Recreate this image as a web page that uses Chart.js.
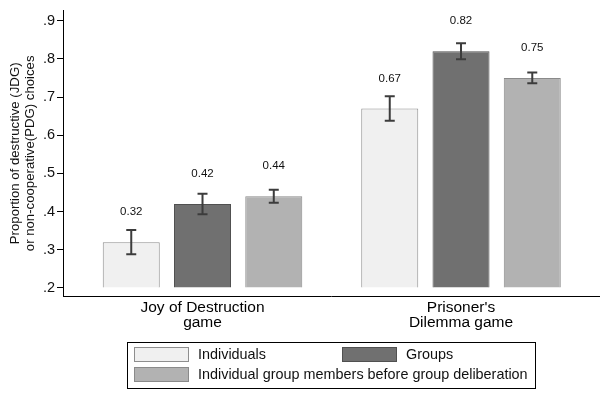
<!DOCTYPE html>
<html>
<head>
<meta charset="utf-8">
<script src="https://cdn.jsdelivr.net/npm/chart.js@4"></script>
<style>
    html, body { margin: 0; padding: 0; background: #fff; }
    #wrap { width: 604px; height: 398px; }
</style>
</head>
<body>
<div id="wrap"><canvas id="chart" width="604" height="398"></canvas></div>
<script>
// Categories (games) and series values
const games = [['Joy of Destruction', 'game'], ["Prisoner's", 'Dilemma game']];
const individuals = [0.32, 0.67];
const groups = [0.42, 0.82];
const members = [0.44, 0.75];

// Half-widths of the error bars
const individualsErr = [0.032, 0.032];
const groupsErr = [0.027, 0.021];
const membersErr = [0.017, 0.014];

const yTicks = [0.2, 0.3, 0.4, 0.5, 0.6, 0.7, 0.8, 0.9];
const FONT = "'Liberation Sans', Arial, sans-serif";

function toPoints(values) {
    return values.map((v, i) => ({ x: i, y: v }));
}

// Error bars and value labels above each bar
const barExtras = {
    id: 'barExtras',
    afterDatasetsDraw(chart) {
        const ctx = chart.ctx;
        const yScale = chart.scales.y;
        ctx.save();
        chart.data.datasets.forEach((ds, di) => {
            const meta = chart.getDatasetMeta(di);
            meta.data.forEach((bar, i) => {
                const v = ds.data[i].y;
                const e = ds.errors[i];
                const top = yScale.getPixelForValue(v + e);
                const bottom = yScale.getPixelForValue(v - e);
                ctx.strokeStyle = '#3c3c3c';
                ctx.lineWidth = 2;
                ctx.beginPath();
                ctx.moveTo(bar.x, top);
                ctx.lineTo(bar.x, bottom);
                ctx.moveTo(bar.x - 5, top);
                ctx.lineTo(bar.x + 5, top);
                ctx.moveTo(bar.x - 5, bottom);
                ctx.lineTo(bar.x + 5, bottom);
                ctx.stroke();

                ctx.fillStyle = '#111';
                ctx.font = '11.5px ' + FONT;
                ctx.textAlign = 'center';
                ctx.textBaseline = 'middle';
                ctx.fillText(v.toFixed(2), bar.x, yScale.getPixelForValue(v) - 30);
            });
        });
        ctx.restore();
    }
};

// Boxed legend, two rows like the original
const boxLegend = {
    id: 'boxLegend',
    afterDraw(chart) {
        const ctx = chart.ctx;
        const ds = chart.data.datasets;
        const slots = [
            { x: 134, y: 347 },
            { x: 342, y: 347 },
            { x: 134, y: 367 }
        ];
        ctx.save();
        ctx.strokeStyle = '#000';
        ctx.lineWidth = 1;
        ctx.strokeRect(127.5, 342.5, 408, 46);
        ctx.font = '14.4px ' + FONT;
        ctx.textAlign = 'left';
        ctx.textBaseline = 'middle';
        ds.forEach((d, i) => {
            const s = slots[i];
            ctx.fillStyle = d.backgroundColor;
            ctx.fillRect(s.x, s.y, 55, 15);
            ctx.strokeStyle = d.borderColor;
            ctx.strokeRect(s.x + 0.5, s.y + 0.5, 54, 14);
            ctx.fillStyle = '#111';
            ctx.fillText(d.label, s.x + 64, s.y + 8);
        });
        ctx.restore();
    }
};

const ctx = document.getElementById('chart').getContext('2d');
new Chart(ctx, {
    type: 'bar',
    data: {
        datasets: [
            {
                label: 'Individuals',
                data: toPoints(individuals),
                errors: individualsErr,
                backgroundColor: '#f0f0f0',
                borderColor: '#8e8e8e',
                borderWidth: 1
            },
            {
                label: 'Groups',
                data: toPoints(groups),
                errors: groupsErr,
                backgroundColor: '#707070',
                borderColor: '#505050',
                borderWidth: 1
            },
            {
                label: 'Individual group members before group deliberation',
                data: toPoints(members),
                errors: membersErr,
                backgroundColor: '#b2b2b2',
                borderColor: '#8a8a8a',
                borderWidth: 1
            }
        ]
    },
    options: {
        responsive: false,
        animation: false,
        base: 0.2,
        categoryPercentage: 0.827,
        barPercentage: 0.8,
        layout: { padding: { left: 0, right: 5, top: 7, bottom: 0 } },
        plugins: {
            legend: { display: false },
            tooltip: { enabled: false }
        },
        scales: {
            x: {
                type: 'linear',
                offset: false,
                min: -0.5397,
                max: 1.5338,
                grid: { display: false, drawTicks: false },
                border: { display: true, color: '#000', width: 1 },
                afterBuildTicks: (scale) => {
                    scale.ticks = games.map((g, i) => ({ value: i }));
                },
                afterFit: (scale) => { scale.height = 102; },
                ticks: {
                    autoSkip: false,
                    maxRotation: 0,
                    padding: 4,
                    color: '#000',
                    font: { family: FONT, size: 15.5, lineHeight: 0.97 },
                    callback: (v, i) => games[i]
                }
            },
            y: {
                min: 0.179,
                max: 0.926,
                grid: { drawOnChartArea: false, drawTicks: true, tickLength: 6, color: '#000' },
                border: { display: true, color: '#000', width: 1 },
                afterBuildTicks: (scale) => {
                    scale.ticks = yTicks.map(v => ({ value: v }));
                },
                afterFit: (scale) => { scale.width = 63; },
                ticks: {
                    padding: 2,
                    color: '#111',
                    font: { family: FONT, size: 14.5 },
                    callback: (v) => v.toFixed(1).replace(/^0/, '')
                },
                title: {
                    display: true,
                    text: ['Proportion of destructive (JDG)', 'or non-cooperative(PDG) choices'],
                    color: '#111',
                    font: { family: FONT, size: 13.2, lineHeight: 1.15 },
                    padding: { top: 8, bottom: 0 }
                }
            }
        }
    },
    plugins: [barExtras, boxLegend]
});
</script>
</body>
</html>
